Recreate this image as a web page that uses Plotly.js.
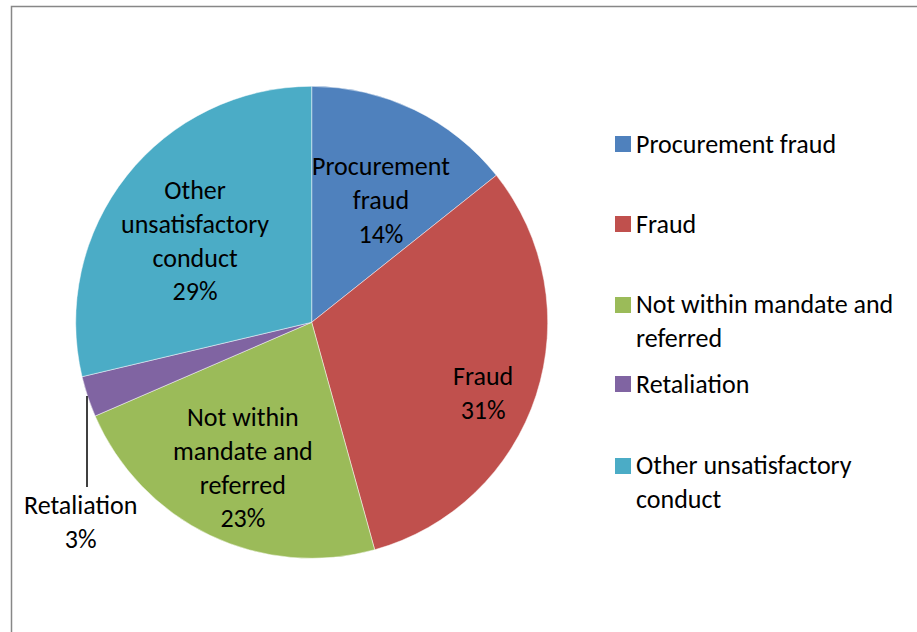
<!DOCTYPE html>
<html>
<head>
<meta charset="utf-8">
<script src="https://cdn.plot.ly/plotly-3.0.1.min.js"></script>
<style>html,body{margin:0;padding:0;background:#fff;}#chart{width:917px;height:632px;}</style>
</head>
<body>
<div id="chart"></div>
<script>
// Data
var categories = ["Procurement fraud", "Fraud", "Not within mandate and referred", "Retaliation", "Other unsatisfactory conduct"];
var values = [14.3, 31.4, 22.8, 2.8, 28.7];
var sliceLabels = ["Procurement<br>fraud", "Fraud", "Not within<br>mandate and<br>referred", "Retaliation", "Other<br>unsatisfactory<br>conduct"];
var legendLabels = ["Procurement fraud", "Fraud", "Not within mandate and<br>referred", "Retaliation", "Other unsatisfactory<br>conduct"];
var colors = ["#4F81BD", "#C0504D", "#9BBB59", "#8064A2", "#4BACC6"];

var W = 917, H = 632;
var FONT = "Carlito, Calibri, Lato, 'Open Sans', sans-serif";
var FS = 26;

var total = values.reduce(function(a, b) { return a + b; }, 0);
var pct = values.map(function(v) { return Math.round(v / total * 100) + "%"; });

var trace = {
  type: "pie",
  labels: categories,
  values: values,
  sort: false,
  direction: "clockwise",
  rotation: 0,
  textinfo: "none",
  marker: {colors: colors, line: {color: "rgba(255,255,255,0.6)", width: 0.8}},
  domain: {x: [(311.7 - 236) / W, (311.7 + 236) / W], y: [1 - 558.3 / H, 1 - 86.3 / H]},
  hoverinfo: "label+percent",
  showlegend: false
};

var shapes = [];
var annotations = [];

// Data labels (Excel-style placement), text from the data arrays
var labelPosPx = [[381, 200], [483, 393], [243, 468], [80, 522], [195, 240]];
categories.forEach(function(c, i) {
  annotations.push({xref: "paper", yref: "paper", x: labelPosPx[i][0] / W, y: 1 - labelPosPx[i][1] / H,
    xanchor: "center", yanchor: "middle", showarrow: false, align: "center",
    text: sliceLabels[i] + "<br>" + pct[i], font: {family: FONT, size: FS, color: "#000"}});
});
// Leader line for the small Retaliation slice
shapes.push({type: "line", xref: "paper", yref: "paper", x0: 87 / W, x1: 87 / W, y0: 1 - 396 / H, y1: 1 - 487 / H,
  line: {color: "#000", width: 1.5}});

// Custom legend (Excel style spacing)
var legendCentersPx = [144, 224, 305, 384, 466];
var lineH = 32;
legendLabels.forEach(function(lab, i) {
  var cy = legendCentersPx[i];
  shapes.push({type: "rect", xref: "paper", yref: "paper",
    x0: 615 / W, x1: 631 / W, y0: 1 - (cy + 8) / H, y1: 1 - (cy - 8) / H,
    fillcolor: colors[i], line: {width: 0}});
  var nLines = lab.split("<br>").length;
  annotations.push({xref: "paper", yref: "paper", x: 634 / W, y: 1 - (cy + (nLines - 1) * lineH / 2) / H,
    xanchor: "left", yanchor: "middle", align: "left", showarrow: false,
    text: lab, font: {family: FONT, size: FS, color: "#000"}});
});

// Chart frame
shapes.push({type: "rect", xref: "paper", yref: "paper", x0: 11.5 / W, x1: 1.02, y0: -0.02, y1: 1 - 6.5 / H,
  line: {color: "#878787", width: 1.5}, fillcolor: "rgba(0,0,0,0)", layer: "below"});

var layout = {
  width: W, height: H,
  margin: {l: 0, r: 0, t: 0, b: 0},
  paper_bgcolor: "#fff",
  showlegend: false,
  shapes: shapes,
  annotations: annotations,
  font: {family: FONT, size: FS, color: "#000"}
};

Plotly.newPlot("chart", [trace], layout, {displayModeBar: false});
</script>
</body>
</html>
